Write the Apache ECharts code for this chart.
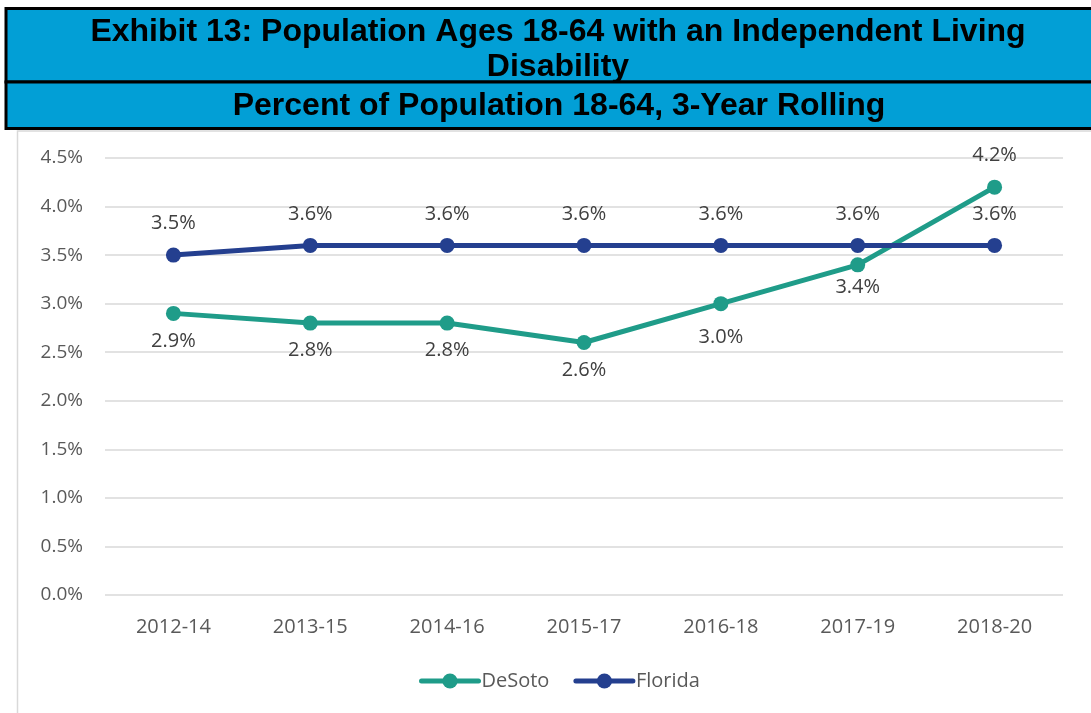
<!DOCTYPE html>
<html>
<head>
<meta charset="utf-8">
<script src="https://cdn.jsdelivr.net/npm/echarts@6/dist/echarts.min.js"></script>
<style>
  html, body { margin: 0; padding: 0; background: #fff; }
  #chart { width: 1091px; height: 713px; }
</style>
</head>
<body>
<div id="chart"></div>
<script>
var categories = ['2012-14', '2013-15', '2014-16', '2015-17', '2016-18', '2017-19', '2018-20'];
var desoto = [2.9, 2.8, 2.8, 2.6, 3.0, 3.4, 4.2];
var florida = [3.5, 3.6, 3.6, 3.6, 3.6, 3.6, 3.6];
var yTicks = [0, 0.5, 1.0, 1.5, 2.0, 2.5, 3.0, 3.5, 4.0, 4.5];

var teal = '#1f9c89';
var navy = '#243f8f';
var labelFont = '"Open Sans", "Noto Sans", sans-serif';
var titleFont = '"Liberation Sans", Arial, sans-serif';

// DeSoto labels sit below the line, except the last one
var desotoData = desoto.map(function (v, i) {
  var item = { value: v, label: { position: 'bottom', distance: 10 } };
  if (i === 4) item.label.distance = 16;
  if (i === 5) item.label.distance = 5;
  if (i === 6) item.label = { position: 'top', distance: 14 };
  return item;
});

function pct(p) { return p.value.toFixed(1) + '%'; }

var chart = echarts.init(document.getElementById('chart'));

var option = {
  animation: false,
  backgroundColor: '#fff',
  graphic: [
    { type: 'rect', z: 1, shape: { x: 17.5, y: 131, width: 1100, height: 600 }, style: { fill: 'none', stroke: '#d9d9d9', lineWidth: 1.5 } },
    { type: 'rect', z: 2, shape: { x: 6, y: 8.5, width: 1100, height: 73.5 }, style: { fill: '#029fd6', stroke: '#000', lineWidth: 3 } },
    { type: 'rect', z: 2, shape: { x: 6, y: 82, width: 1100, height: 46.5 }, style: { fill: '#029fd6', stroke: '#000', lineWidth: 3 } }
  ],
  title: [
    {
      text: 'Exhibit 13: Population Ages 18-64 with an Independent Living\nDisability',
      left: 553, top: 10, textAlign: 'center', z: 5,
      textStyle: { fontFamily: titleFont, fontWeight: 'bold', fontSize: 32, color: '#000', lineHeight: 35 }
    },
    {
      text: 'Percent of Population 18-64, 3-Year Rolling',
      left: 554, top: 84, textAlign: 'center', z: 5,
      textStyle: { fontFamily: titleFont, fontWeight: 'bold', fontSize: 32, color: '#000', lineHeight: 35 }
    }
  ],
  legend: {
    bottom: 17,
    left: 414,
    itemGap: 24,
    itemWidth: 57,
    itemHeight: 19,
    lineStyle: { width: 5, cap: 'round' },
    textStyle: { fontFamily: labelFont, fontSize: 20, color: '#595959', padding: [0, 0, 0, -2] },
    data: ['DeSoto', 'Florida']
  },
  grid: { left: 105, right: 28, top: 158, bottom: 118, containLabel: false },
  xAxis: {
    type: 'category',
    data: categories,
    boundaryGap: true,
    axisLine: { show: false },
    axisTick: { show: false },
    axisLabel: { fontFamily: labelFont, fontSize: 20, color: '#595959', margin: 22 }
  },
  yAxis: {
    type: 'value',
    min: yTicks[0],
    max: yTicks[yTicks.length - 1],
    interval: 0.5,
    axisLine: { show: false },
    axisTick: { show: false },
    splitLine: { lineStyle: { color: '#d9d9d9', width: 1.5 } },
    axisLabel: {
      fontFamily: labelFont, fontSize: 19, color: '#595959', margin: 22,
      formatter: function (v) { return v.toFixed(1) + '%'; }
    }
  },
  series: [
    {
      name: 'DeSoto',
      type: 'line',
      data: desotoData,
      color: teal,
      symbol: 'circle',
      symbolSize: 15,
      lineStyle: { width: 5, color: teal },
      itemStyle: { color: teal },
      label: { show: true, fontFamily: labelFont, fontSize: 20, color: '#404040', formatter: pct },
      z: 3
    },
    {
      name: 'Florida',
      type: 'line',
      data: florida,
      color: navy,
      symbol: 'circle',
      symbolSize: 15,
      lineStyle: { width: 5, color: navy },
      itemStyle: { color: navy },
      label: { show: true, position: 'top', distance: 14, fontFamily: labelFont, fontSize: 20, color: '#404040', formatter: pct },
      z: 4
    }
  ]
};

chart.setOption(option);
</script>
</body>
</html>
